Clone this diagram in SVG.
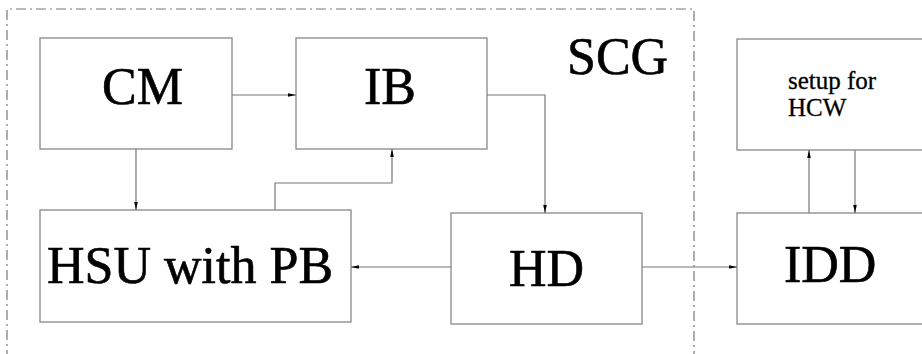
<svg xmlns="http://www.w3.org/2000/svg" width="922" height="354" viewBox="0 0 922 354">
  <style>
    .box { fill: #fff; stroke: #888; stroke-width: 1.3; }
    .wire { fill: none; stroke: #777; stroke-width: 1.2; }
    .big { font-family: "Liberation Serif", "Times New Roman", serif; font-size: 52px; fill: #000; stroke: #000; stroke-width: 0.6; }
    .small { font-family: "Liberation Serif", "Times New Roman", serif; font-size: 25px; fill: #000; stroke: #000; stroke-width: 0.3; }
    .frame { fill: none; stroke: #777; stroke-width: 1.2; stroke-dasharray: 10 4 2 4; }
  </style>
  <defs>
    <marker id="arrow" viewBox="0 0 8 6" refX="8" refY="3" markerWidth="8" markerHeight="6" markerUnits="userSpaceOnUse" orient="auto">
      <path d="M0,1.2 L8,3 L0,4.8 Z" fill="#000"/>
    </marker>
  </defs>

  <rect width="922" height="354" fill="#fff"/>

  <!-- SCG boundary (dash-dot) -->
  <g id="scg">
    <path class="frame" d="M7,360 V9 H694 V360"/>
    <text class="big" x="567" y="74" font-size="50">SCG</text>
  </g>

  <g id="cm">
    <rect class="box" x="40" y="38" width="192" height="111"/>
    <text class="big" x="102" y="104">CM</text>
  </g>

  <g id="ib">
    <rect class="box" x="296" y="38" width="191" height="111"/>
    <text class="big" x="364" y="104">IB</text>
  </g>

  <g id="hsu">
    <rect class="box" x="40" y="210" width="311" height="112"/>
    <text class="big" x="47" y="283">HSU with PB</text>
  </g>

  <g id="hd">
    <rect class="box" x="451" y="213" width="191" height="111"/>
    <text class="big" x="509" y="286">HD</text>
  </g>

  <g id="setup">
    <rect class="box" x="737" y="39" width="200" height="111"/>
    <text class="small" x="788" y="89">setup for</text>
    <text class="small" x="788" y="116">HCW</text>
  </g>

  <g id="idd">
    <rect class="box" x="737" y="213" width="200" height="111"/>
    <text class="big" x="784" y="282">IDD</text>
  </g>

  <g id="connectors">
    <path class="wire" d="M232,95 H296" marker-end="url(#arrow)"/>
    <path class="wire" d="M136,149 V210" marker-end="url(#arrow)"/>
    <path class="wire" d="M275,210 V183 H392 V149" marker-end="url(#arrow)"/>
    <path class="wire" d="M487,95 H545 V213" marker-end="url(#arrow)"/>
    <path class="wire" d="M451,267 H351" marker-end="url(#arrow)"/>
    <path class="wire" d="M642,267 H737" marker-end="url(#arrow)"/>
    <path class="wire" d="M809,213 V150" marker-end="url(#arrow)"/>
    <path class="wire" d="M855,150 V213" marker-end="url(#arrow)"/>
  </g>
</svg>
